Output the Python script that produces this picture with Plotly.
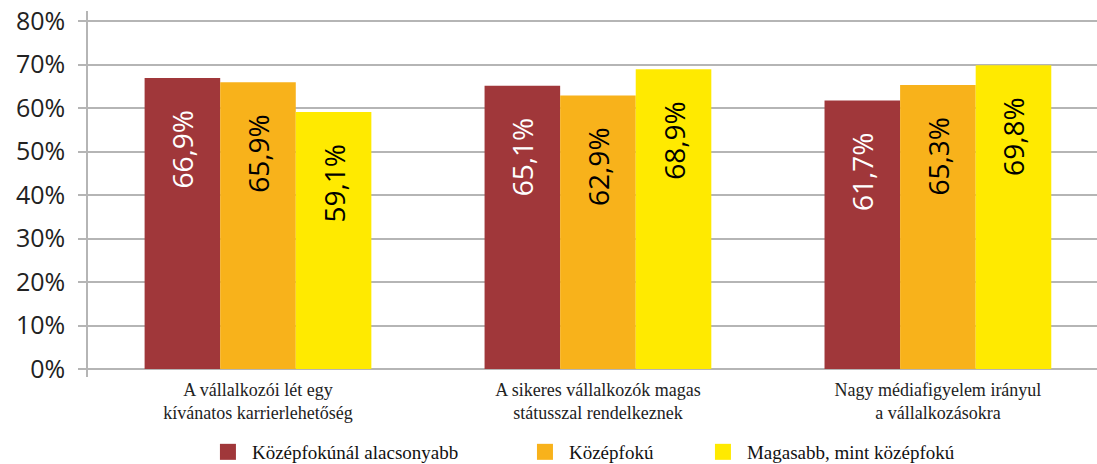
import plotly.graph_objects as go

categories = [
    "A vállalkozói lét egy<br>kívánatos karrierlehetőség",
    "A sikeres vállalkozók magas<br>státusszal rendelkeznek",
    "Nagy médiafigyelem irányul<br>a vállalkozásokra",
]
series_names = ["Középfokúnál alacsonyabb", "Középfokú", "Magasabb, mint középfokú"]
low_values = [66.9, 65.1, 61.7]
mid_values = [65.9, 62.9, 65.3]
high_values = [59.1, 68.9, 69.8]
y_ticks = [0, 10, 20, 30, 40, 50, 60, 70, 80]
y_tick_labels = ["0%", "10%", "20%", "30%", "40%", "50%", "60%", "70%", "80%"]

colors = ["#A0373A", "#F8B21B", "#FFEA00"]
text_colors = ["white", "black", "black"]
series_values = [low_values, mid_values, high_values]
legend_ids = ["legend", "legend2", "legend3"]
legend_x = [0.1149, 0.4291, 0.6055]
serif = "Times New Roman"

fig = go.Figure()
pad = "\u00a0" * 4
for name, vals, col, tcol, lid in zip(series_names, series_values, colors, text_colors, legend_ids):
    fig.add_trace(go.Bar(
        x=categories, y=vals, name=name, marker=dict(color=col, line=dict(width=0)),
        texttemplate="%{y:.1f}%" + pad, textposition="inside", insidetextanchor="end",
        textangle=-90, textfont=dict(family="Open Sans", size=28, color=tcol),
        showlegend=False,
    ))
    fig.add_trace(go.Scatter(
        x=[None], y=[None], mode="markers", name=name, legend=lid,
        marker=dict(symbol="square", size=22, color=col),
    ))

legend_common = dict(
    orientation="h", xanchor="left", yref="container", y=0.0259, yanchor="middle",
    font=dict(family=serif, size=19, color="#111"), itemwidth=38,
    bgcolor="rgba(0,0,0,0)",
)
fig.update_layout(
    width=1097, height=464,
    margin=dict(l=88, r=0, t=11, b=87),
    plot_bgcolor="white", paper_bgcolor="white",
    barmode="group", bargap=0.333, bargroupgap=0,
    separators=", ",
    font=dict(family=serif, size=18, color="#222"),
    legend=dict(x=legend_x[0], **legend_common),
    legend2=dict(x=legend_x[1], **legend_common),
    legend3=dict(x=legend_x[2], **legend_common),
)
fig.update_xaxes(
    range=[-0.5, 2.468], showline=False, showgrid=False, ticks="",
    tickfont=dict(family=serif, size=18, color="#222"), automargin=False,
)
fig.update_yaxes(
    range=[-1.84, 82.3], tickvals=y_ticks, ticktext=y_tick_labels,
    showgrid=True, gridcolor="#b5b5b5", gridwidth=1.5,
    showline=True, linecolor="#b5b5b5", linewidth=1.5,
    ticks="outside", ticklen=8, tickcolor="#b5b5b5", tickwidth=1.5,
    ticklabelstandoff=8, zeroline=False, automargin=False,
    ticklabeloverflow="allow",
    tickfont=dict(family="Open Sans", size=25, color="#222"),
)

fig.write_html(
    "out.html",
    config={"displayModeBar": False},
    post_script="document.body.style.margin='0';document.body.style.overflow='hidden';",
)
